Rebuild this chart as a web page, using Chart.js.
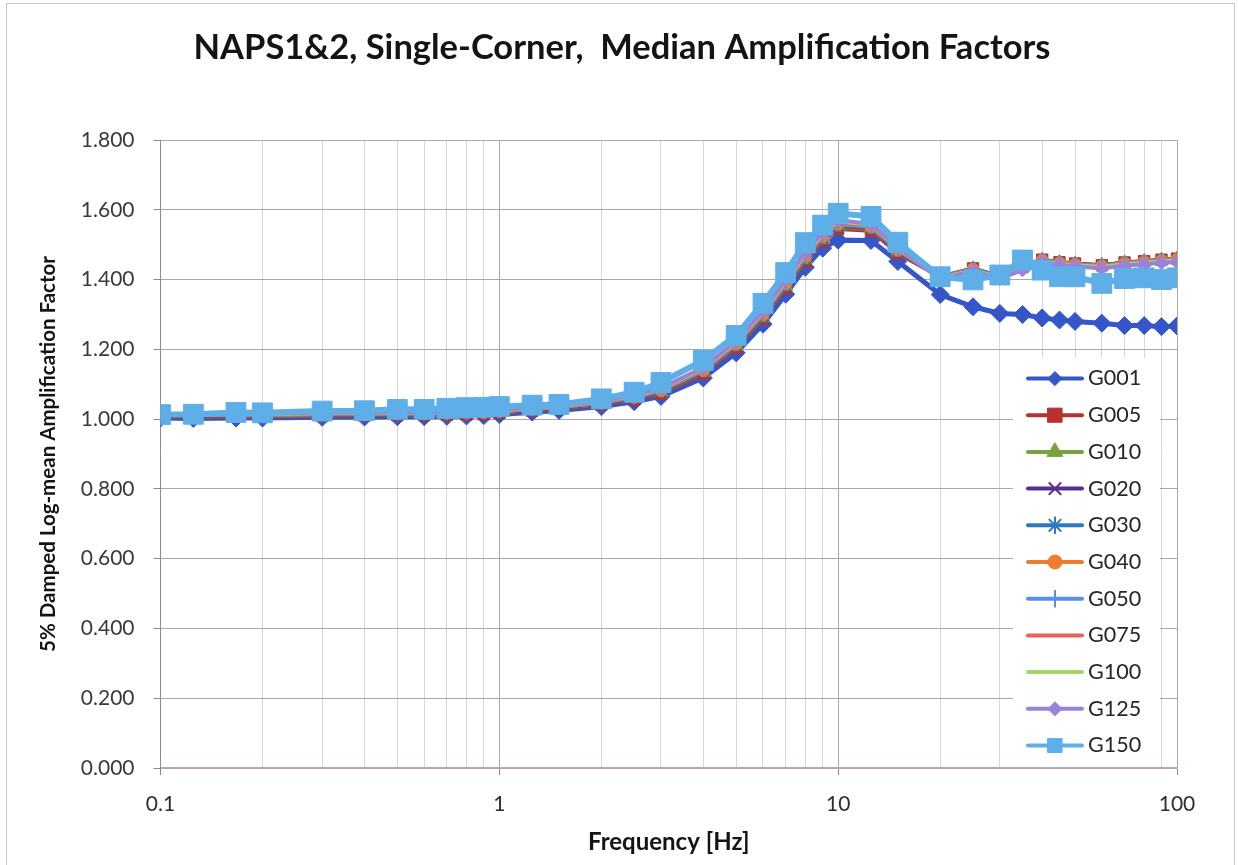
<!DOCTYPE html>
<html>
<head>
<meta charset="utf-8">
<title>NAPS1&amp;2 Median Amplification Factors</title>
<script src="https://cdn.jsdelivr.net/npm/chart.js@4.4.1/dist/chart.umd.min.js"></script>
<style>
  html, body { margin: 0; padding: 0; background: #fff; }
  canvas { display: block; }
</style>
</head>
<body>
<canvas id="ampChart" width="1238" height="865"></canvas>
<script>
// frequency points (Hz)
const frequencies = [0.1, 0.125, 0.167, 0.2, 0.3, 0.4, 0.5, 0.6, 0.7, 0.8, 0.9, 1, 1.25, 1.5, 2, 2.5, 3, 4, 5, 6, 7, 8, 9, 10, 12.5, 15, 20, 25, 30, 35, 40, 45, 50, 60, 70, 80, 90, 100];

// median amplification per site group
const g001 = [1.003, 1.002, 1.003, 1.003, 1.005, 1.006, 1.007, 1.007, 1.008, 1.009, 1.010, 1.013, 1.020, 1.025, 1.036, 1.050, 1.065, 1.118, 1.190, 1.272, 1.358, 1.435, 1.490, 1.513, 1.512, 1.452, 1.357, 1.322, 1.303, 1.300, 1.290, 1.284, 1.280, 1.275, 1.268, 1.268, 1.265, 1.267];
const g005 = [1.007, 1.006, 1.007, 1.007, 1.009, 1.010, 1.011, 1.011, 1.012, 1.013, 1.014, 1.017, 1.024, 1.029, 1.041, 1.056, 1.073, 1.130, 1.205, 1.288, 1.375, 1.452, 1.510, 1.545, 1.540, 1.475, 1.408, 1.432, 1.409, 1.436, 1.457, 1.450, 1.446, 1.441, 1.449, 1.453, 1.457, 1.460];
const g010 = [1.009, 1.008, 1.009, 1.009, 1.011, 1.012, 1.013, 1.013, 1.014, 1.015, 1.016, 1.019, 1.026, 1.031, 1.044, 1.059, 1.077, 1.134, 1.209, 1.292, 1.380, 1.457, 1.515, 1.551, 1.545, 1.479, 1.407, 1.431, 1.408, 1.435, 1.456, 1.449, 1.445, 1.441, 1.448, 1.452, 1.456, 1.459];
const g020 = [1.010, 1.009, 1.010, 1.010, 1.012, 1.013, 1.014, 1.014, 1.015, 1.016, 1.017, 1.020, 1.027, 1.032, 1.045, 1.060, 1.078, 1.136, 1.211, 1.295, 1.383, 1.460, 1.518, 1.554, 1.547, 1.481, 1.407, 1.431, 1.408, 1.435, 1.456, 1.449, 1.445, 1.440, 1.448, 1.452, 1.456, 1.459];
const g030 = [1.011, 1.010, 1.011, 1.011, 1.013, 1.014, 1.015, 1.015, 1.016, 1.017, 1.018, 1.021, 1.028, 1.033, 1.046, 1.061, 1.080, 1.138, 1.213, 1.297, 1.385, 1.462, 1.520, 1.556, 1.549, 1.483, 1.406, 1.430, 1.407, 1.434, 1.455, 1.448, 1.444, 1.440, 1.447, 1.451, 1.455, 1.458];
const g040 = [1.012, 1.011, 1.012, 1.012, 1.014, 1.015, 1.016, 1.016, 1.017, 1.018, 1.019, 1.022, 1.029, 1.034, 1.047, 1.063, 1.082, 1.140, 1.215, 1.300, 1.388, 1.465, 1.523, 1.559, 1.551, 1.485, 1.406, 1.430, 1.406, 1.433, 1.455, 1.448, 1.444, 1.439, 1.447, 1.451, 1.455, 1.458];
const g050 = [1.012, 1.012, 1.013, 1.013, 1.015, 1.016, 1.017, 1.017, 1.018, 1.019, 1.020, 1.023, 1.030, 1.035, 1.048, 1.064, 1.083, 1.142, 1.217, 1.302, 1.390, 1.467, 1.525, 1.561, 1.553, 1.487, 1.405, 1.429, 1.406, 1.432, 1.454, 1.447, 1.443, 1.438, 1.446, 1.450, 1.454, 1.457];
const g075 = [1.013, 1.012, 1.014, 1.014, 1.016, 1.017, 1.018, 1.018, 1.019, 1.020, 1.021, 1.024, 1.031, 1.036, 1.050, 1.066, 1.085, 1.144, 1.219, 1.305, 1.393, 1.470, 1.528, 1.564, 1.555, 1.489, 1.404, 1.428, 1.405, 1.431, 1.453, 1.446, 1.442, 1.437, 1.445, 1.449, 1.453, 1.456];
const g100 = [1.014, 1.013, 1.015, 1.015, 1.017, 1.018, 1.019, 1.019, 1.020, 1.021, 1.022, 1.025, 1.032, 1.037, 1.051, 1.067, 1.087, 1.146, 1.221, 1.307, 1.396, 1.473, 1.531, 1.567, 1.557, 1.491, 1.403, 1.427, 1.404, 1.430, 1.452, 1.445, 1.441, 1.436, 1.444, 1.448, 1.452, 1.455];
const g125 = [1.014, 1.014, 1.016, 1.016, 1.018, 1.019, 1.020, 1.020, 1.021, 1.022, 1.023, 1.026, 1.033, 1.038, 1.052, 1.069, 1.089, 1.148, 1.224, 1.310, 1.399, 1.477, 1.535, 1.571, 1.559, 1.493, 1.400, 1.425, 1.402, 1.428, 1.450, 1.442, 1.438, 1.432, 1.440, 1.444, 1.448, 1.450];
const g150 = [1.013, 1.014, 1.019, 1.018, 1.023, 1.024, 1.028, 1.028, 1.031, 1.033, 1.034, 1.036, 1.040, 1.042, 1.058, 1.077, 1.105, 1.168, 1.240, 1.332, 1.420, 1.506, 1.556, 1.590, 1.581, 1.507, 1.408, 1.399, 1.413, 1.456, 1.427, 1.408, 1.408, 1.389, 1.403, 1.405, 1.400, 1.405];

const seriesNames = ['G001', 'G005', 'G010', 'G020', 'G030', 'G040', 'G050', 'G075', 'G100', 'G125', 'G150'];
const seriesValues = [g001, g005, g010, g020, g030, g040, g050, g075, g100, g125, g150];

// axis ticks
const xLabelTicks = [0.1, 1, 10, 100];
const yTicks = [0, 0.2, 0.4, 0.6, 0.8, 1.0, 1.2, 1.4, 1.6, 1.8];

const chartTitle = 'NAPS1&2, Single-Corner,  Median Amplification Factors';

// styling per series
const colors = ['#3456c8', '#b8312f', '#77a33e', '#55308d', '#2f78c0', '#f07c2e', '#5b8fe6', '#e8615a', '#a6d36a', '#9b82d8', '#5eaee8'];
const markers = ['rectRot', 'rect', 'triangle', 'crossRot', 'star', 'circle', 'cross', null, null, 'rectRot', 'rect'];
const markerSize = [9, 8, 8, 7, 7, 6, 7, 0, 0, 7, 14];
const legendMarkerSize = [7, 10, 9, 8, 8, 7, 8, 0, 0, 7, 10];
const lineWidths = [5, 4, 4, 4, 4, 4, 4, 4, 4, 4, 6];

// vertical grid: every 1..9 per decade
const xGridValues = [];
[0.1, 1, 10].forEach(d => {
  for (let k = 1; k < 10; k++) xGridValues.push(+(k * d).toPrecision(3));
});
xGridValues.push(100);

const isDecade = v => xLabelTicks.some(t => Math.abs(t - v) < 1e-9);

const datasets = seriesNames.map((name, i) => ({
  label: name,
  data: frequencies.map((f, j) => ({ x: f, y: seriesValues[i][j] })),
  borderColor: colors[i],
  backgroundColor: colors[i],
  borderWidth: lineWidths[i],
  pointStyle: markers[i] || 'circle',
  pointRadius: markerSize[i],
  pointBorderWidth: markers[i] && markers[i].startsWith('cross') || markers[i] === 'star' ? 2 : 1,
  pointBackgroundColor: colors[i],
  pointBorderColor: colors[i],
  legendRadius: legendMarkerSize[i],
  hasMarker: !!markers[i],
  tension: 0,
  // later groups drawn over earlier ones
  order: seriesNames.length - i
}));

const frame = {
  id: 'frame',
  beforeDraw(chart) {
    const c = chart.ctx;
    c.save();
    c.fillStyle = '#fff';
    c.fillRect(0, 0, chart.width, chart.height);
    c.strokeStyle = '#c4c4c4';
    c.lineWidth = 1;
    c.strokeRect(6.5, 3.5, chart.width - 10, chart.height - 2);
    c.restore();
  },
  afterDraw(chart) {
    const c = chart.ctx;
    c.save();
    c.fillStyle = '#141414';
    c.font = 'bold 34.5px Lato';
    c.textAlign = 'center';
    c.textBaseline = 'middle';
    c.fillText(chartTitle, 622, 48);
    c.restore();
  }
};

// legend box sitting inside the plot, bottom right
const insideLegend = {
  id: 'insideLegend',
  afterDraw(chart) {
    const c = chart.ctx;
    const area = chart.chartArea;
    const left = area.right - 164, top = 358;
    c.save();
    c.fillStyle = '#fff';
    c.fillRect(left, top, 147, area.bottom - top - 1);
    chart.data.datasets.forEach((ds, i) => {
      const y = 378.5 + i * 36.7;
      c.strokeStyle = ds.borderColor;
      c.lineWidth = 4;
      c.lineCap = 'round';
      c.beginPath();
      c.moveTo(left + 15, y);
      c.lineTo(left + 69, y);
      c.stroke();
      if (ds.hasMarker) {
        c.fillStyle = ds.pointBackgroundColor;
        c.strokeStyle = ds.pointBorderColor;
        c.lineWidth = ds.pointBorderWidth;
        Chart.helpers.drawPoint(c, { pointStyle: ds.pointStyle, radius: ds.legendRadius, borderWidth: ds.pointBorderWidth, rotation: 0 }, left + 42, y);
      }
      c.fillStyle = '#262626';
      c.font = '21.5px Lato';
      c.textBaseline = 'middle';
      c.textAlign = 'left';
      c.fillText(ds.label, left + 75, y);
    });
    c.restore();
  }
};

const config = {
  type: 'line',
  data: { datasets: datasets },
  options: {
    responsive: false,
    animation: false,
    events: [],
    layout: { padding: { left: 0, right: 61, top: 140, bottom: 0 } },
    plugins: {
      legend: { display: false },
      tooltip: { enabled: false },
      title: { display: false }
    },
    scales: {
      x: {
        type: 'logarithmic',
        min: 0.1,
        max: 100,
        afterFit: s => { s.height = 97; },
        afterBuildTicks: s => { s.ticks = xGridValues.map(v => ({ value: v })); },
        grid: {
          color: c => isDecade(c.tick.value) ? '#a9a9a9' : '#d6d6d6',
          tickColor: c => isDecade(c.tick.value) ? '#8a8a8a' : 'rgba(0,0,0,0)',
          tickLength: 7
        },
        border: { color: '#c4a3b4', width: 1.5 },
        ticks: {
          autoSkip: false,
          maxRotation: 0,
          padding: 17,
          color: '#2e2e2e',
          font: { family: 'Lato', size: 21 },
          callback: v => isDecade(v) ? String(v) : ''
        },
        title: {
          display: true,
          text: 'Frequency [Hz]',
          color: '#141414',
          font: { family: 'Lato', size: 24, weight: 'bold' },
          padding: { top: 0, bottom: 8.5 }
        }
      },
      y: {
        min: 0,
        max: 1.8,
        afterFit: s => { s.width = 160.5; },
        afterBuildTicks: s => { s.ticks = yTicks.map(v => ({ value: v })); },
        grid: { color: '#a8a8a8', tickColor: '#8a8a8a', tickLength: 7 },
        border: { color: '#8c8c8c', width: 1 },
        ticks: {
          padding: 19,
          color: '#3a3a3a',
          font: { family: 'Lato', size: 21 },
          callback: v => v.toFixed(3)
        },
        title: {
          display: true,
          text: '5% Damped Log-mean Amplification Factor',
          color: '#141414',
          font: { family: 'Lato', size: 20.5, weight: 'bold' },
          padding: { top: 36, bottom: 0 }
        }
      }
    }
  },
  plugins: [frame, insideLegend]
};

const ampChart = new Chart(document.getElementById('ampChart').getContext('2d'), config);
</script>
</body>
</html>
